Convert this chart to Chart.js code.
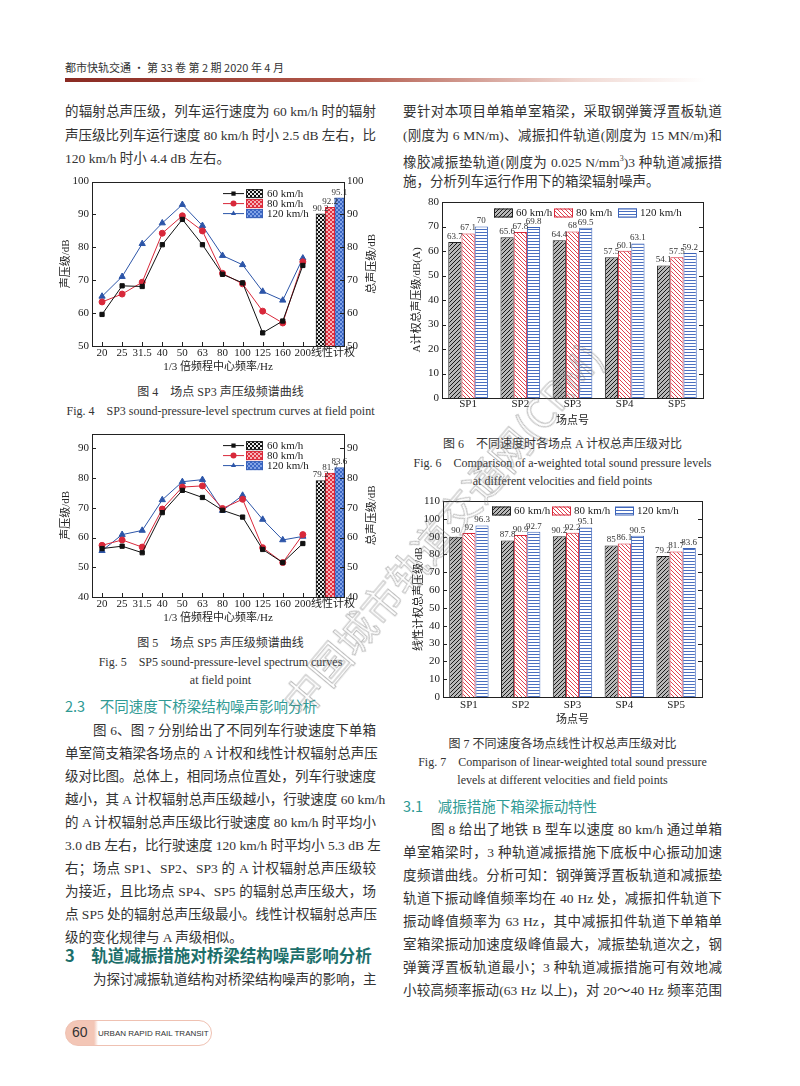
<!DOCTYPE html>
<html>
<head>
<meta charset="utf-8">
<script src="https://cdn.jsdelivr.net/npm/chart.js@4.4.0/dist/chart.umd.min.js"></script>
<style>
  body { margin: 0; width: 800px; height: 1086px; position: relative; overflow: hidden; background: #fff;
         font-family: 'Liberation Serif', 'Noto Sans CJK SC', serif; color: #333; }
  .ln { position: absolute; font-size: 13.5px; line-height: 18px; white-space: nowrap; }
  .L { left: 65px; width: 311px; }
  .R { left: 403px; width: 319px; }
  .Li { left: 93px; width: 283px; }
  .Ri { left: 431px; width: 291px; }
  .j { text-align: justify; text-align-last: justify; }
  .cap { position: absolute; font-size: 12px; line-height: 16px; text-align: center; white-space: nowrap; }
  .capL { left: 65px; width: 311px; }
  .capR { left: 403px; width: 319px; }
  .h2 { position: absolute; font-family: 'Noto Sans CJK SC', sans-serif; color: #2f9a94; font-size: 14.5px; line-height: 20px; white-space: nowrap; }
  .h1 { position: absolute; font-family: 'Noto Sans CJK SC', sans-serif; color: #1d6f6b; font-weight: 700; font-size: 16.5px; line-height: 22px; white-space: nowrap; }
  .box { position: absolute; }
  #wm { position: absolute; left: 268px; top: 690px; font-family: 'Noto Sans CJK SC', sans-serif; font-size: 40px; color: transparent;
        -webkit-text-stroke: 1px rgba(120,120,120,0.5); transform: rotate(-50deg); transform-origin: 0 0; white-space: nowrap; z-index: 5; pointer-events: none; }
</style>
</head>
<body>

<div style="position:absolute;left:65px;top:59px;font-family:'Noto Sans CJK SC',sans-serif;font-size:11px;color:#333;">都市快轨交通 · 第 33 卷 第 2 期 2020 年 4 月</div>
<div style="position:absolute;left:65px;top:78px;width:640px;height:4px;background:linear-gradient(to right,#8a2a22,#b25a4c 45%,rgba(230,190,180,0.6) 80%,rgba(255,255,255,0));"></div>

<div class="ln L j" style="top:103px">的辐射总声压级，列车运行速度为 60 km/h 时的辐射</div>
<div class="ln L j" style="top:127px">声压级比列车运行速度 80 km/h 时小 2.5 dB 左右，比</div>
<div class="ln L" style="top:150px">120 km/h 时小 4.4 dB 左右。</div>

<div class="ln R j" style="top:103px">要针对本项目单箱单室箱梁，采取钢弹簧浮置板轨道</div>
<div class="ln R j" style="top:127px">(刚度为 6 MN/m)、减振扣件轨道(刚度为 15 MN/m)和</div>
<div class="ln R j" style="top:150px">橡胶减振垫轨道(刚度为 0.025 N/mm<sup style="font-size:8px">3</sup>)3 种轨道减振措</div>
<div class="ln R" style="top:173px">施，分析列车运行作用下的箱梁辐射噪声。</div>

<div class="box" style="left:55px;top:172px;width:330px;height:205px"><canvas id="fig4"></canvas></div>
<div class="cap capL" style="top:384px">图 4　场点 SP3 声压级频谱曲线</div>
<div class="cap capL" style="top:403px">Fig. 4　SP3 sound-pressure-level spectrum curves at field point</div>

<div class="box" style="left:55px;top:424px;width:330px;height:204px"><canvas id="fig5"></canvas></div>
<div class="cap capL" style="top:635px">图 5　场点 SP5 声压级频谱曲线</div>
<div class="cap capL" style="top:654px">Fig. 5　SP5 sound-pressure-level spectrum curves</div>
<div class="cap capL" style="top:672px">at field point</div>

<div class="h2" style="left:65px;top:696px">2.3　不同速度下桥梁结构噪声影响分析</div>
<div class="ln Li j" style="top:722px">图 6、图 7 分别给出了不同列车行驶速度下单箱</div>
<div class="ln L j" style="top:745px">单室简支箱梁各场点的 A 计权和线性计权辐射总声压</div>
<div class="ln L j" style="top:768px">级对比图。总体上，相同场点位置处，列车行驶速度</div>
<div class="ln L j" style="top:791px">越小，其 A 计权辐射总声压级越小，行驶速度 60 km/h</div>
<div class="ln L j" style="top:814px">的 A 计权辐射总声压级比行驶速度 80 km/h 时平均小</div>
<div class="ln L j" style="top:837px">3.0 dB 左右，比行驶速度 120 km/h 时平均小 5.3 dB 左</div>
<div class="ln L j" style="top:860px">右；场点 SP1、SP2、SP3 的 A 计权辐射总声压级较</div>
<div class="ln L j" style="top:883px">为接近，且比场点 SP4、SP5 的辐射总声压级大，场</div>
<div class="ln L j" style="top:906px">点 SP5 处的辐射总声压级最小。线性计权辐射总声压</div>
<div class="ln L" style="top:929px">级的变化规律与 A 声级相似。</div>
<div class="h1" style="left:65px;top:944px">3　轨道减振措施对桥梁结构噪声影响分析</div>
<div class="ln Li j" style="top:971px">为探讨减振轨道结构对桥梁结构噪声的影响，主</div>

<div class="box" style="left:400px;top:192px;width:320px;height:236px"><canvas id="fig6"></canvas></div>
<div class="cap capR" style="top:436px">图 6　不同速度时各场点 A 计权总声压级对比</div>
<div class="cap capR" style="top:455px">Fig. 6　Comparison of a-weighted total sound pressure levels</div>
<div class="cap capR" style="top:473px">at different velocities and field points</div>

<div class="box" style="left:400px;top:491px;width:320px;height:236px"><canvas id="fig7"></canvas></div>
<div class="cap capR" style="top:736px">图 7 不同速度各场点线性计权总声压级对比</div>
<div class="cap capR" style="top:754px">Fig. 7　Comparison of linear-weighted total sound pressure</div>
<div class="cap capR" style="top:772px">levels at different velocities and field points</div>

<div class="h2" style="left:403px;top:796px">3.1　减振措施下箱梁振动特性</div>
<div class="ln Ri j" style="top:821px">图 8 给出了地铁 B 型车以速度 80 km/h 通过单箱</div>
<div class="ln R j" style="top:844px">单室箱梁时，3 种轨道减振措施下底板中心振动加速</div>
<div class="ln R j" style="top:867px">度频谱曲线。分析可知：钢弹簧浮置板轨道和减振垫</div>
<div class="ln R j" style="top:890px">轨道下振动峰值频率均在 40 Hz 处，减振扣件轨道下</div>
<div class="ln R j" style="top:913px">振动峰值频率为 63 Hz，其中减振扣件轨道下单箱单</div>
<div class="ln R j" style="top:936px">室箱梁振动加速度级峰值最大，减振垫轨道次之，钢</div>
<div class="ln R j" style="top:959px">弹簧浮置板轨道最小；3 种轨道减振措施可有效地减</div>
<div class="ln R j" style="top:982px">小较高频率振动(63 Hz 以上)，对 20～40 Hz 频率范围</div>

<div style="position:absolute;left:65px;top:1020px;width:145px;height:24px;border:1.5px solid #efc1b2;border-radius:14px;background:linear-gradient(to right,#f3c6b6 0,#f3c6b6 28px,#fff 32px);"></div>
<div style="position:absolute;left:72px;top:1024px;font-family:'Liberation Sans',sans-serif;font-size:14px;color:#333;">60</div>
<div style="position:absolute;left:98px;top:1029px;font-family:'Liberation Sans',sans-serif;font-size:8px;color:#333;">URBAN RAPID RAIL TRANSIT</div>

<div id="wm">中国城市轨道交通网(CRM)</div>

<script>
// ---- data ----
const freqLabels = ['20', '25', '31.5', '40', '50', '63', '80', '100', '125', '160', '200'];
const totalLabel = '线性计权';
const speeds = ['60 km/h', '80 km/h', '120 km/h'];

// Fig 4, SP3 spectrum
const sp3Speed60 = [59.6, 68.3, 68.1, 80.8, 88.5, 80.8, 71.8, 69.2, 54.0, 57.6, 74.5];
const sp3Speed80 = [63.4, 65.8, 69.4, 84.3, 89.6, 85.0, 72.1, 68.9, 60.6, 57.0, 75.6];
const sp3Speed120 = [65.1, 71.1, 81.1, 87.4, 93.0, 86.6, 77.5, 74.7, 66.6, 63.9, 76.7];
const sp3Totals = [90.2, 92.2, 95.1];

// Fig 5, SP5 spectrum
const sp5Speed60 = [56.3, 57.1, 54.9, 68.4, 75.9, 73.5, 69.2, 66.9, 56.0, 51.6, 58.0];
const sp5Speed80 = [57.4, 59.2, 56.8, 69.6, 77.0, 77.4, 69.8, 72.9, 56.6, 51.6, 61.0];
const sp5Speed120 = [55.6, 61.0, 62.4, 72.7, 78.8, 79.5, 69.1, 74.2, 66.1, 59.2, 60.4];
const sp5Totals = [79.2, 81.7, 83.6];

// Fig 6 / Fig 7
const fieldPoints = ['SP1', 'SP2', 'SP3', 'SP4', 'SP5'];
const aWeighted60 = [63.7, 65.6, 64.4, 57.5, 54.1];
const aWeighted80 = [67.1, 67.8, 68, 60.1, 57.5];
const aWeighted120 = [70, 69.8, 69.5, 63.1, 59.2];
const linWeighted60 = [90, 87.8, 90.2, 85, 79.2];
const linWeighted80 = [92, 90.9, 92.2, 86.1, 81.7];
const linWeighted120 = [96.3, 92.7, 95.1, 90.5, 83.6];

const FONT = "'Liberation Serif', 'Noto Sans CJK SC', serif";
const lineColors = ['#111111', '#d8283a', '#2c55a8'];
const markers = ['rect', 'circle', 'triangle'];
const edgeColors = ['#222222', '#d8283a', '#3a62b8'];
const noGrid = { display: false, drawTicks: false };

// small hatch tiles for the bar fills
function tile(ctx, bg, fg, kinds, size, lw) {
  const c = document.createElement('canvas');
  c.width = c.height = size;
  const g = c.getContext('2d');
  g.fillStyle = bg;
  g.fillRect(0, 0, size, size);
  g.strokeStyle = fg;
  g.lineWidth = lw || 1;
  g.beginPath();
  kinds.forEach(k => {
    if (k === '/') {
      g.moveTo(-1, size + 1); g.lineTo(size + 1, -1);
      g.moveTo(-1, 1); g.lineTo(1, -1);
      g.moveTo(size - 1, size + 1); g.lineTo(size + 1, size - 1);
    } else if (k === '\\') {
      g.moveTo(-1, -1); g.lineTo(size + 1, size + 1);
      g.moveTo(size - 1, -1); g.lineTo(size + 1, 1);
      g.moveTo(-1, size - 1); g.lineTo(1, size + 1);
    } else if (k === '-') {
      g.moveTo(0, size / 2); g.lineTo(size, size / 2);
    }
  });
  g.stroke();
  return ctx.createPattern(c, 'repeat');
}

// box round the plot with inward ticks (and the right-hand title, read bottom to top)
const framePlugin = {
  id: 'frame',
  afterDraw(chart, args, opts) {
    const { ctx, chartArea: a, scales } = chart;
    ctx.save();
    ctx.strokeStyle = '#222';
    ctx.lineWidth = 1;
    ctx.strokeRect(Math.round(a.left) + 0.5, Math.round(a.top) + 0.5, Math.round(a.right - a.left), Math.round(a.bottom - a.top));
    ctx.beginPath();
    const t = 4;
    scales.y.ticks.forEach((tk, i) => {
      const p = Math.round(scales.y.getPixelForTick(i)) + 0.5;
      ctx.moveTo(a.left, p); ctx.lineTo(a.left + t, p);
      ctx.moveTo(a.right, p); ctx.lineTo(a.right - t, p);
    });
    if (opts.xTicks) {
      scales.x.ticks.forEach((tk, i) => {
        if (i >= opts.xTicks) return;
        const p = Math.round(scales.x.getPixelForTick(i)) + 0.5;
        ctx.moveTo(p, a.bottom); ctx.lineTo(p, a.bottom - t);
      });
    }
    ctx.stroke();
    if (opts.rightTitle) {
      ctx.translate(a.right + opts.rightOffset, (a.top + a.bottom) / 2);
      ctx.rotate(-Math.PI / 2);
      ctx.font = '11px ' + FONT;
      ctx.fillStyle = '#222';
      ctx.textAlign = 'center';
      ctx.textBaseline = 'middle';
      ctx.fillText(opts.rightTitle, 0, 0);
    }
    ctx.restore();
  }
};

// numbers over the bars
const valuePlugin = {
  id: 'values',
  afterDatasetsDraw(chart) {
    const ctx = chart.ctx;
    ctx.save();
    ctx.font = '9px ' + FONT;
    ctx.fillStyle = '#333';
    ctx.textAlign = 'center';
    ctx.textBaseline = 'bottom';
    chart.data.datasets.forEach((ds, di) => {
      if (!ds.showValues) return;
      chart.getDatasetMeta(di).data.forEach((el, i) => {
        const v = ds.data[i];
        if (v == null) return;
        ctx.fillText(String(v), el.x, el.y - 1);
      });
    });
    ctx.restore();
  }
};

// legend drawn inside the plot area
const legendPlugin = {
  id: 'innerLegend',
  afterDraw(chart, args, opts) {
    const { ctx, chartArea: a } = chart;
    ctx.save();
    ctx.font = '11px ' + FONT;
    ctx.textBaseline = 'middle';
    opts.items.forEach((it, k) => {
      let x, y;
      if (opts.stacked) {
        x = a.right - opts.dx;
        y = a.top + opts.dy + k * 10;
        ctx.strokeStyle = it.line;
        ctx.lineWidth = 1;
        ctx.beginPath(); ctx.moveTo(x, y); ctx.lineTo(x + 21, y); ctx.stroke();
        ctx.fillStyle = it.line;
        Chart.helpers.drawPoint(ctx, { pointStyle: it.marker, radius: 3, rotation: 0 }, x + 10.5, y);
        ctx.fillStyle = it.fill;
        ctx.fillRect(x + 23, y - 4.5, 17, 9);
        ctx.strokeStyle = it.edge;
        ctx.strokeRect(x + 23.5, y - 4, 16, 8);
        ctx.fillStyle = '#222';
        ctx.fillText(it.label, x + 44, y + 0.5);
      } else {
        x = a.left + opts.xs[k];
        y = a.top + opts.dy;
        ctx.fillStyle = it.fill;
        ctx.fillRect(x, y - 4.5, 19, 9);
        ctx.strokeStyle = it.edge;
        ctx.lineWidth = 1;
        ctx.strokeRect(x + 0.5, y - 4, 18, 8);
        ctx.fillStyle = '#222';
        ctx.fillText(it.label, x + 22, y + 0.5);
      }
    });
    ctx.restore();
  }
};

function spectrumChart(id, s60, s80, s120, totals, yMin, yMax) {
  const ctx = document.getElementById(id).getContext('2d');
  const fills = [
    tile(ctx, '#e8e8e8', '#111', ['/', '\\'], 4),
    tile(ctx, '#f6b2b8', '#e0303f', ['/', '\\'], 4),
    tile(ctx, '#3a66c4', '#82a3e6', ['/', '\\'], 4)
  ];
  // the three total bars sit in the last three narrow slots of a hidden category axis
  const slots = 27;
  const slot = (v, k) => Array.from({ length: slots }, (_, i) => (i === slots - 3 + k ? v : null));
  const lines = [s60, s80, s120].map((arr, k) => ({
    type: 'line', label: speeds[k], xAxisID: 'x', yAxisID: 'y',
    data: arr.map((v, i) => ({ x: i, y: v })),
    borderColor: lineColors[k], backgroundColor: lineColors[k], borderWidth: 1,
    pointStyle: markers[k], pointRadius: k === 2 ? 3.6 : 3, tension: 0
  }));
  const bars = totals.map((v, k) => ({
    type: 'bar', label: speeds[k], xAxisID: 'xb', yAxisID: 'y', showValues: true,
    data: slot(v, k), base: yMin, backgroundColor: fills[k], borderColor: edgeColors[k], borderWidth: 1,
    grouped: false, barPercentage: 1, categoryPercentage: 1
  }));
  const xTickValues = freqLabels.map((_, i) => i).concat([11.5]);
  const xTickText = freqLabels.concat([totalLabel]);
  const tickFont = { family: FONT, size: 11 };
  new Chart(ctx, {
    type: 'bar',
    data: { labels: Array(slots).fill(''), datasets: bars.concat(lines) },
    options: {
      responsive: true, maintainAspectRatio: false, animation: false,
      layout: { padding: { top: 8, left: 0, right: 0, bottom: 0 } },
      plugins: {
        legend: { display: false }, tooltip: { enabled: false },
        frame: { xTicks: 11, rightTitle: '总声压级/dB', rightOffset: 28 },
        innerLegend: {
          stacked: true, dx: 121, dy: 12,
          items: speeds.map((s, k) => ({ label: s, line: lineColors[k], marker: markers[k], fill: fills[k], edge: edgeColors[k] }))
        }
      },
      scales: {
        x: {
          type: 'linear', min: -0.5, max: 12.05, position: 'bottom', offset: false,
          grid: noGrid, border: { display: false },
          afterBuildTicks: s => { s.ticks = xTickValues.map(v => ({ value: v })); },
          ticks: { autoSkip: false, maxRotation: 0, padding: 1, color: '#222', font: tickFont, callback: (v, i) => xTickText[i] },
          title: { display: true, text: '1/3 倍频程中心频率/Hz', color: '#222', font: { family: FONT, size: 11 }, padding: { top: 0, bottom: 3 } },
          afterFit: s => { s.height = 31; }
        },
        xb: { type: 'category', display: false, offset: true, grid: noGrid },
        y: {
          min: yMin, max: yMax, position: 'left',
          afterBuildTicks: s => { s.ticks = s.ticks.filter(t => t.value % 10 === 0); },
          grid: noGrid, border: { display: false },
          ticks: { stepSize: 10, padding: 3, color: '#222', font: tickFont },
          title: { display: true, text: '声压级/dB', color: '#222', font: { family: FONT, size: 11 }, padding: { top: 5, bottom: 0 } },
          afterFit: s => { s.width = 37; }
        },
        y2: {
          min: yMin, max: yMax, position: 'right',
          afterBuildTicks: s => { s.ticks = s.ticks.filter(t => t.value % 10 === 0); },
          grid: noGrid, border: { display: false },
          ticks: { stepSize: 10, padding: 3, color: '#222', font: tickFont },
          afterFit: s => { s.width = 41; }
        }
      }
    },
    plugins: [framePlugin, valuePlugin, legendPlugin]
  });
}

function totalsChart(id, v60, v80, v120, yMax, yTitle, leftW, titlePad, padRight, xH, xPad, legendXs, legendDy) {
  const ctx = document.getElementById(id).getContext('2d');
  const fills = [
    tile(ctx, '#b8b8b8', '#1a1a1a', ['/'], 4),
    tile(ctx, '#ffffff', '#e0404e', ['\\'], 4),
    tile(ctx, '#ffffff', '#4a6fc0', ['-'], 3)
  ];
  const sets = [v60, v80, v120].map((arr, k) => ({
    label: speeds[k], data: arr, showValues: true,
    backgroundColor: fills[k], borderColor: edgeColors[k], borderWidth: 1,
    barPercentage: 1, categoryPercentage: 0.76
  }));
  const tickFont = { family: FONT, size: 11 };
  new Chart(ctx, {
    type: 'bar',
    data: { labels: fieldPoints, datasets: sets },
    options: {
      responsive: true, maintainAspectRatio: false, animation: false,
      layout: { padding: { top: 10, left: 0, right: padRight, bottom: 0 } },
      plugins: {
        legend: { display: false }, tooltip: { enabled: false },
        frame: {},
        innerLegend: {
          stacked: false, dy: legendDy, xs: legendXs,
          items: speeds.map((s, k) => ({ label: s, fill: fills[k], edge: edgeColors[k] }))
        }
      },
      scales: {
        x: {
          grid: noGrid, border: { display: false },
          ticks: { padding: xPad, color: '#222', font: tickFont },
          title: { display: true, text: '场点号', color: '#222', font: { family: FONT, size: 11 }, padding: { top: 0, bottom: 0 } },
          afterFit: s => { s.height = xH; }
        },
        y: {
          min: 0, max: yMax,
          grid: noGrid, border: { display: false },
          ticks: { stepSize: 10, padding: 3, color: '#222', font: tickFont },
          title: { display: true, text: yTitle, color: '#222', font: { family: FONT, size: 11 }, padding: { top: titlePad, bottom: 0 } },
          afterFit: s => { s.width = leftW; }
        }
      }
    },
    plugins: [framePlugin, valuePlugin, legendPlugin]
  });
}

spectrumChart('fig4', sp3Speed60, sp3Speed80, sp3Speed120, sp3Totals, 50, 100);
spectrumChart('fig5', sp5Speed60, sp5Speed80, sp5Speed120, sp5Totals, 40, 95);
totalsChart('fig6', aWeighted60, aWeighted80, aWeighted120, 80, 'A计权总声压级/dB(A)', 42, 11, 17, 30, 0, [52, 112, 176], 11);
totalsChart('fig7', linWeighted60, linWeighted80, linWeighted120, 110, '线性计权总声压级/dB', 43, 13, 18, 30, 2, [49, 109, 172], 10);
</script>
</body>
</html>
